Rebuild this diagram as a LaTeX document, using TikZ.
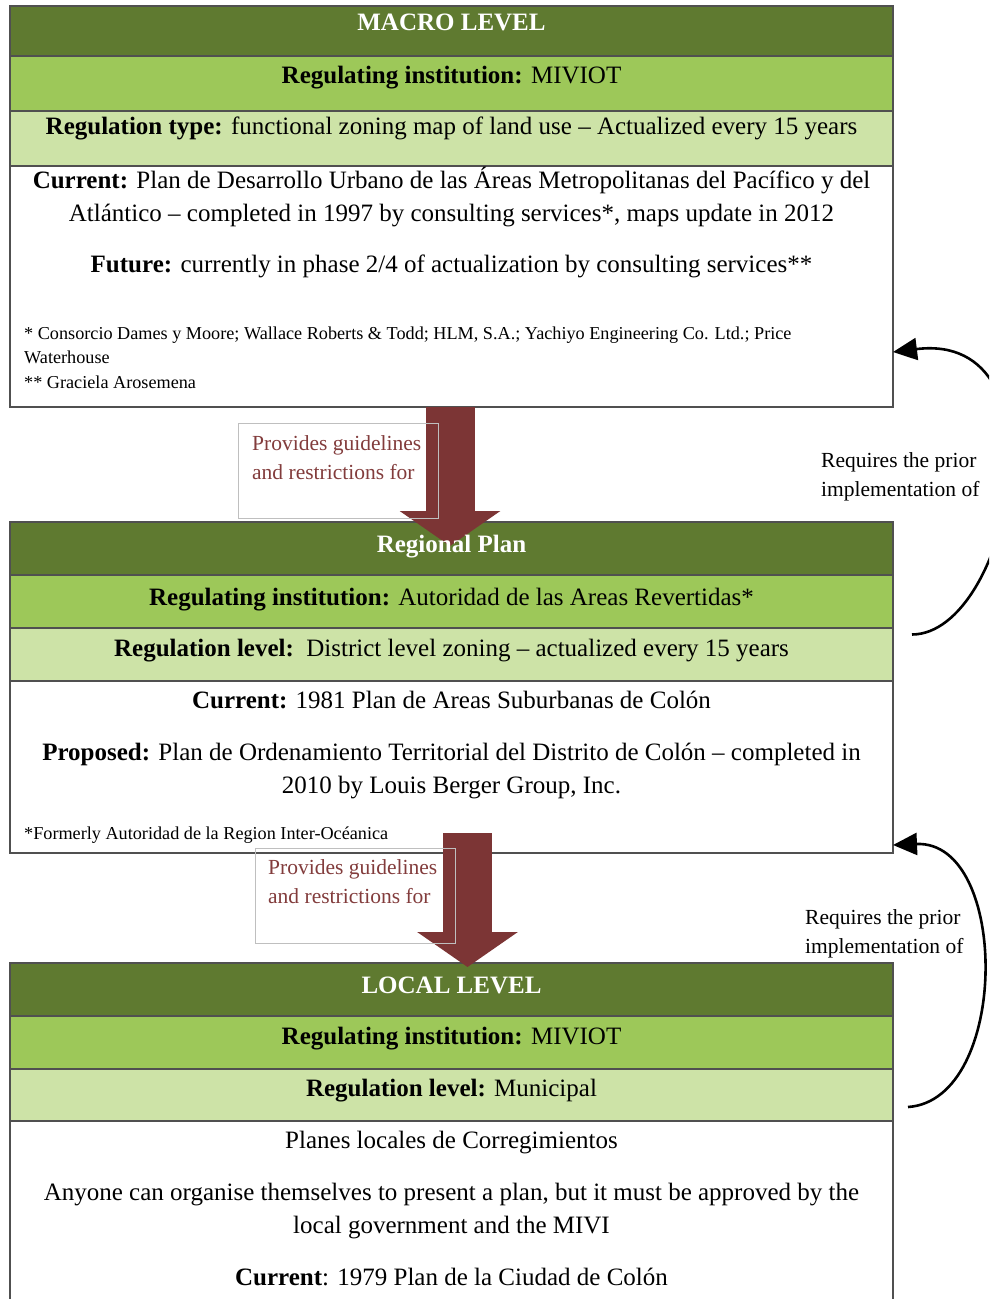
\documentclass[tikz,border=0pt]{standalone}
\usepackage{fontspec}
\setmainfont{Liberation Serif}
\usetikzlibrary{positioning,arrows.meta}

\definecolor{levelgreen}{RGB}{95,122,48}
\definecolor{instgreen}{RGB}{157,200,89}
\definecolor{typegreen}{RGB}{205,227,167}
\definecolor{guidered}{RGB}{124,53,53}
\definecolor{labelbrown}{RGB}{130,60,60}
\definecolor{framegray}{RGB}{80,80,80}

\newcommand{\mainsize}{\fontsize{25}{32.5}\selectfont}
\newcommand{\notesize}{\fontsize{18.2}{24.5}\selectfont}
\newcommand{\labelsize}{\fontsize{21.5}{29}\selectfont}

\begin{document}
\begin{tikzpicture}[x=1pt, y=-1pt, node distance=0pt,
    band/.style={draw=framegray, line width=1.3pt, minimum width=883pt, inner sep=0pt, outer sep=0pt},
    headband/.style={band, fill=levelgreen},
    instband/.style={band, fill=instgreen},
    typeband/.style={band, fill=typegreen},
    bodyband/.style={band, fill=white},
    headtext/.style={anchor=base, inner sep=0pt, font=\mainsize\bfseries, text=white},
    bandtext/.style={anchor=base, inner sep=0pt, font=\mainsize, align=center},
    notetext/.style={anchor=base west, inner sep=0pt, font=\notesize, align=left},
    guidebox/.style={draw=black!25, line width=0.9pt, minimum width=200pt, minimum height=95pt, inner sep=0pt, anchor=north west},
    guidetext/.style={anchor=base west, inner sep=0pt, font=\labelsize, text=labelbrown, align=left},
    guidearrow/.style={draw=guidered, line width=49pt, -{Triangle[length=35pt, width=99pt]}},
    reqtext/.style={anchor=base west, inner sep=0pt, font=\labelsize, align=left},
    reqarrow/.style={draw=black, line width=2.6pt, -{Triangle[length=24pt, width=22pt]}}]

    \useasboundingbox (0,0) rectangle (989,1299);
    \clip (0,0) rectangle (989,1299);

    % Macro level
    \node[headband, minimum height=50pt, anchor=north west] (macroHead) at (10,6) {};
    \node[instband, minimum height=55pt, below=of macroHead] (macroInst) {};
    \node[typeband, minimum height=55pt, below=of macroInst] (macroType) {};
    \node[bodyband, minimum height=241pt, below=of macroType] (macroBody) {};

    % Regional plan
    \node[headband, minimum height=53pt, anchor=north west] (regHead) at (10,522) {};
    \node[instband, minimum height=53pt, below=of regHead] (regInst) {};
    \node[typeband, minimum height=53pt, below=of regInst] (regLevel) {};
    \node[bodyband, minimum height=172pt, below=of regLevel] (regBody) {};

    % Local level
    \node[headband, minimum height=53pt, anchor=north west] (localHead) at (10,963) {};
    \node[instband, minimum height=53pt, below=of localHead] (localInst) {};
    \node[typeband, minimum height=52pt, below=of localInst] (localLevel) {};
    \node[bodyband, minimum height=220pt, below=of localLevel] (localBody) {};

    % Block arrows
    \draw[guidearrow] ([xshift=-1.5pt]macroBody.south) -- ([xshift=-1.5pt, yshift=-24pt]regHead.north);
    \draw[guidearrow] ([xshift=16pt, yshift=20pt]regBody.south) -- ([xshift=16pt, yshift=-4pt]localHead.north);

    % Label boxes (multi-line nodes sit on their last baseline)
    \node[guidebox] (guideBoxA) at (238,423) {};
    \node[guidetext] (guideTextA) at ([xshift=14pt, yshift=-56pt]guideBoxA.north west) {Provides guidelines\\and restrictions for};
    \node[guidebox] (guideBoxB) at (255,848) {};
    \node[guidetext] (guideTextB) at ([xshift=13pt, yshift=-55pt]guideBoxB.north west) {Provides guidelines\\and restrictions for};

    % Texts macro
    \node[headtext] (macroTitle) at (451.5,30.5) {MACRO LEVEL};
    \node[bandtext] (macroInstText) at (451.5,83.5) {\textbf{Regulating institution:} MIVIOT};
    \node[bandtext] (macroTypeText) at (451.5,134.5) {\textbf{Regulation type:} functional zoning map of land use – Actualized every 15 years};
    \node[bandtext] (macroCurrent) at (451.5,221) {\textbf{Current:} Plan de Desarrollo Urbano de las Áreas Metropolitanas del Pacífico y del\\Atlántico – completed in 1997 by consulting services*, maps update in 2012};
    \node[bandtext] (macroFuture) at (451.5,272.5) {\textbf{Future:} currently in phase 2/4 of actualization by consulting services**};
    \node[notetext] (macroNote) at (24,388) {* Consorcio Dames y Moore; Wallace Roberts \& Todd; HLM, S.A.; Yachiyo Engineering Co. Ltd.; Price\\Waterhouse\\** Graciela Arosemena};

    % Texts regional
    \node[headtext] (regTitle) at (451.5,552.5) {Regional Plan};
    \node[bandtext] (regInstText) at (451.5,605.5) {\textbf{Regulating institution:} Autoridad de las Areas Revertidas*};
    \node[bandtext] (regLevelText) at (451.5,656.5) {\textbf{Regulation level:}\ \ District level zoning – actualized every 15 years};
    \node[bandtext] (regCurrent) at (451.5,708.5) {\textbf{Current:} 1981 Plan de Areas Suburbanas de Colón};
    \node[bandtext] (regProposed) at (451.5,793) {\textbf{Proposed:} Plan de Ordenamiento Territorial del Distrito de Colón – completed in\\2010 by Louis Berger Group, Inc.};
    \node[notetext] (regNote) at (24,839) {*Formerly Autoridad de la Region Inter-Océanica};

    % Texts local
    \node[headtext] (localTitle) at (451.5,993.5) {LOCAL LEVEL};
    \node[bandtext] (localInstText) at (451.5,1044.5) {\textbf{Regulating institution:} MIVIOT};
    \node[bandtext] (localLevelText) at (451.5,1096.5) {\textbf{Regulation level:} Municipal};
    \node[bandtext] (localPlans) at (451.5,1148.5) {Planes locales de Corregimientos};
    \node[bandtext] (localAnyone) at (451.5,1233) {Anyone can organise themselves to present a plan, but it must be approved by the\\local government and the MIVI};
    \node[bandtext] (localCurrent) at (451.5,1285.5) {\textbf{Current}: 1979 Plan de la Ciudad de Colón};

    % Requires arrows
    \node[reqtext] (reqTextA) at (821,496) {Requires the prior\\implementation of};
    \node[reqtext] (reqTextB) at (805,953) {Requires the prior\\implementation of};
    \coordinate (reqStartA) at ([xshift=19pt, yshift=20pt]regLevel.east);
    \coordinate (reqStartB) at ([xshift=15pt, yshift=-12pt]localLevel.east);
    \draw[reqarrow] (reqStartA) .. controls (1010,634) and (1070,330) .. ([yshift=-65.5pt]macroBody.east);
    \draw[reqarrow] (reqStartB) .. controls (1010,1100) and (1010,840) .. ([yshift=-78pt]regBody.east);
\end{tikzpicture}
\end{document}
